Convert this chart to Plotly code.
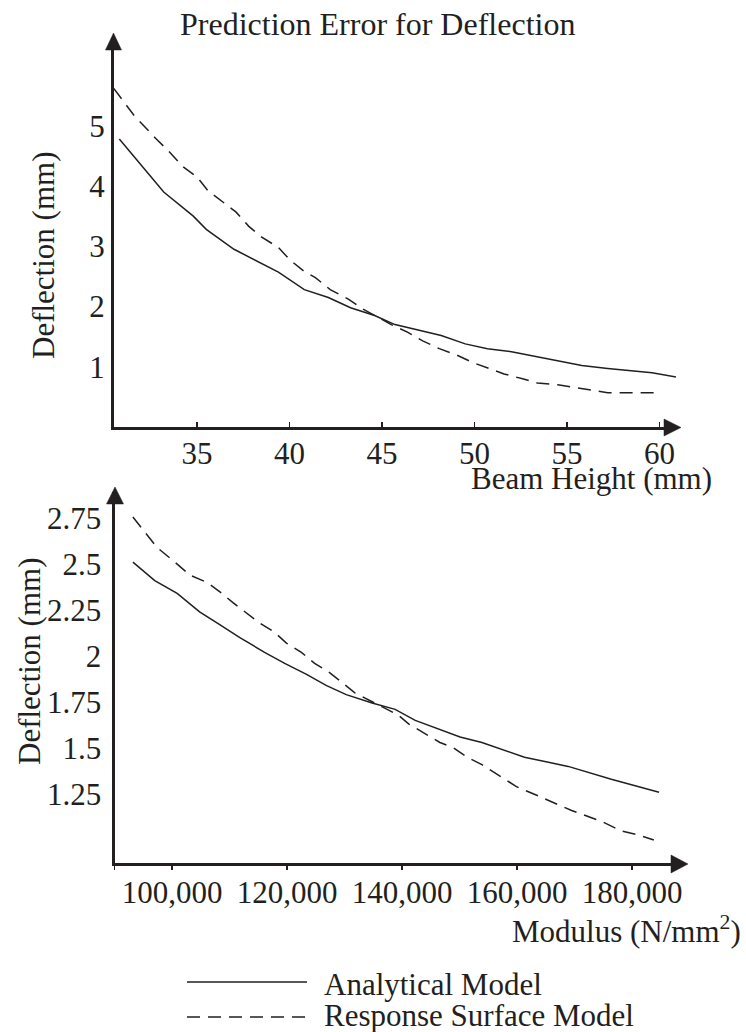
import plotly.graph_objects as go

W, H = 746, 1032
INK = "#231f20"
FONT = "Liberation Serif"

# ---------------- data ----------------
beam_height_analytical = [30.8, 33.2, 34.8, 35.5, 37.0, 38.3, 39.4, 40.8, 42.1, 43.3, 44.6,
                          45.7, 48.2, 49.5, 50.7, 52.0, 53.3, 54.5, 55.8, 57.2, 59.6, 60.9]
defl_beam_analytical = [4.78, 3.90, 3.50, 3.28, 2.95, 2.75, 2.57, 2.28, 2.15, 1.98, 1.85,
                        1.70, 1.52, 1.38, 1.30, 1.25, 1.17, 1.10, 1.02, 0.97, 0.90, 0.83]

beam_height_rsm = [30.5, 31.0, 31.6, 32.8, 33.5, 34.2, 35.0, 35.6, 36.4, 37.1, 37.8, 38.5,
                   39.4, 40.0, 40.8, 41.4, 42.2, 43.2, 43.9, 44.6, 45.5, 46.4, 47.2, 48.1,
                   49.0, 49.9, 50.7, 51.6, 52.6, 53.4, 54.5, 55.3, 56.1, 57.2, 58.0, 59.9]
defl_beam_rsm = [5.62, 5.42, 5.17, 4.78, 4.57, 4.33, 4.15, 3.92, 3.73, 3.57, 3.33, 3.15,
                 2.98, 2.78, 2.58, 2.48, 2.28, 2.12, 1.97, 1.85, 1.70, 1.57, 1.43, 1.30,
                 1.20, 1.07, 0.98, 0.88, 0.80, 0.73, 0.70, 0.66, 0.62, 0.57, 0.57, 0.57]

modulus_analytical = [93200, 97000, 100900, 104800, 108300, 111800, 116100, 119600, 123400,
                      126800, 130300, 134800, 138800, 142300, 150100, 153900, 161300,
                      168900, 176400, 184700]
defl_mod_analytical = [2.51, 2.41, 2.34, 2.24, 2.17, 2.10, 2.02, 1.96, 1.90,
                       1.84, 1.79, 1.745, 1.71, 1.65, 1.56, 1.53, 1.45,
                       1.40, 1.33, 1.26]

modulus_rsm = [93200, 97400, 100500, 103100, 106100, 108700, 110600, 113000, 115200,
               117800, 119900, 122500, 124800, 127400, 129400, 131800, 134900, 139300,
               141200, 144000, 146600, 149000, 151300, 153900, 156500, 159900, 164400,
               169500, 174800, 178100, 180800, 183800]
defl_mod_rsm = [2.755, 2.59, 2.51, 2.44, 2.40, 2.34, 2.29, 2.23, 2.18,
                2.13, 2.07, 2.02, 1.96, 1.91, 1.86, 1.80, 1.75, 1.68,
                1.63, 1.58, 1.53, 1.50, 1.45, 1.41, 1.36, 1.29, 1.23,
                1.16, 1.10, 1.05, 1.03, 1.00]

beam_ticks = [35, 40, 45, 50, 55, 60]
beam_defl_ticks = [1, 2, 3, 4, 5]
mod_minor_ticks = [90000]
mod_ticks = [100000, 120000, 140000, 160000, 180000]
mod_tick_text = ["100,000", "120,000", "140,000", "160,000", "180,000"]
mod_defl_ticks = [1.25, 1.5, 1.75, 2, 2.25, 2.5, 2.75]
mod_defl_text = ["1.25", "1.5", "1.75", "2", "2.25", "2.5", "2.75"]

series_names = ["Analytical Model", "Response Surface Model"]
title_text = "Prediction Error for Deflection"


def px(x):
    return x / W


def py(y):
    return 1 - y / H


solid = dict(color=INK, width=1.5)
dashed = dict(color=INK, width=1.5, dash="13px,8px")

fig = go.Figure()
fig.add_trace(go.Scatter(x=beam_height_analytical, y=defl_beam_analytical, mode="lines",
                         line=solid, name=series_names[0], xaxis="x", yaxis="y"))
fig.add_trace(go.Scatter(x=beam_height_rsm, y=defl_beam_rsm, mode="lines",
                         line=dashed, name=series_names[1], xaxis="x", yaxis="y"))
fig.add_trace(go.Scatter(x=modulus_analytical, y=defl_mod_analytical, mode="lines",
                         line=solid, name=series_names[0], xaxis="x2", yaxis="y2"))
fig.add_trace(go.Scatter(x=modulus_rsm, y=defl_mod_rsm, mode="lines",
                         line=dashed, name=series_names[1], xaxis="x2", yaxis="y2"))

tickfont = dict(family=FONT, size=31, color=INK)
axis_common = dict(showline=True, linewidth=3, linecolor=INK, showgrid=False,
                   zeroline=False, tickfont=tickfont, fixedrange=True)

# top plot geometry (pixels)
T_LEFT, T_RIGHT, T_BOTTOM, T_TOP = 114, 676, 427, 38
x_per_unit = 18.5
x0 = 35 - (197 - T_LEFT) / x_per_unit
x1 = x0 + (T_RIGHT - T_LEFT) / x_per_unit
y_per_unit = 60.25
y1 = (T_BOTTOM - T_TOP) / y_per_unit

# bottom plot geometry
B_LEFT, B_RIGHT, B_BOTTOM, B_TOP = 114.5, 682, 863, 492
mx_per = 5.75 / 1000
mx0 = 90000
mx1 = mx0 + (B_RIGHT - B_LEFT) / mx_per
my_per = 184
my0 = 1.25 - (B_BOTTOM - 794) / my_per
my1 = 1.25 + (794 - B_TOP) / my_per

fig.update_layout(
    width=W, height=H,
    margin=dict(l=0, r=0, t=0, b=0),
    paper_bgcolor="white", plot_bgcolor="white",
    showlegend=False,
    hovermode=False,
    font=dict(family=FONT, color=INK),
    xaxis=dict(axis_common, domain=[px(T_LEFT), px(T_RIGHT)], range=[x0, x1],
               anchor="y", tickvals=beam_ticks, ticks="inside", ticklen=5,
               tickwidth=1.5, tickcolor=INK, ticklabelstandoff=-3),
    yaxis=dict(axis_common, domain=[py(T_BOTTOM), py(T_TOP)], range=[0, y1],
               anchor="x", tickvals=beam_defl_ticks, ticks="", ticklabelstandoff=0),
    xaxis2=dict(axis_common, domain=[px(B_LEFT), px(B_RIGHT)], range=[mx0, mx1],
                anchor="y2", tickvals=mod_ticks, ticktext=mod_tick_text,
                ticks="outside", ticklen=4, tickwidth=1.5, tickcolor=INK,
                ticklabelstandoff=-4,
                minor=dict(tickvals=mod_minor_ticks, ticks="outside", ticklen=4,
                           tickwidth=1.5, tickcolor=INK, showgrid=False)),
    yaxis2=dict(axis_common, domain=[py(B_BOTTOM), py(B_TOP)], range=[my0, my1],
                anchor="x2", tickvals=mod_defl_ticks, ticktext=mod_defl_text,
                ticks="", ticklabelstandoff=4),
)


def tri(points):
    d = "M " + " L ".join(f"{px(a):.5f},{py(b):.5f}" for a, b in points) + " Z"
    return dict(type="path", path=d, xref="paper", yref="paper",
                fillcolor=INK, line=dict(color=INK, width=0.5))


shapes = [
    tri([(113.5, 33), (105.5, 50), (121.5, 50)]),
    tri([(681, 427.5), (664, 419), (664, 436)]),
    tri([(115, 487), (106.5, 504), (123.5, 504)]),
    tri([(688, 864), (671, 855), (671, 873)]),
    dict(type="line", xref="paper", yref="paper", x0=px(187), x1=px(307),
         y0=py(982), y1=py(982), line=solid),
    dict(type="line", xref="paper", yref="paper", x0=px(187), x1=px(307),
         y0=py(1017), y1=py(1017), line=dashed),
]

lab = dict(family=FONT, size=31, color=INK)
annotations = [
    dict(text=title_text, x=px(377), y=py(24), xref="paper", yref="paper",
         showarrow=False, xanchor="center", yanchor="middle",
         font=dict(family=FONT, size=32, color=INK)),
    dict(text="Deflection (mm)", x=px(43), y=py(256), xref="paper", yref="paper",
         showarrow=False, textangle=-90, xanchor="center", yanchor="middle", font=lab),
    dict(text="Beam Height (mm)", x=px(714), y=py(479), xref="paper", yref="paper",
         showarrow=False, xanchor="right", yanchor="middle", font=lab),
    dict(text="Deflection (mm)", x=px(29), y=py(662), xref="paper", yref="paper",
         showarrow=False, textangle=-90, xanchor="center", yanchor="middle", font=lab),
    dict(text="Modulus (N/mm<sup>2</sup>)", x=px(743), y=py(929), xref="paper",
         yref="paper", showarrow=False, xanchor="right", yanchor="middle", font=lab),
    dict(text=series_names[0], x=px(322), y=py(984), xref="paper", yref="paper",
         showarrow=False, xanchor="left", yanchor="middle", font=lab),
    dict(text=series_names[1], x=px(322), y=py(1015), xref="paper", yref="paper",
         showarrow=False, xanchor="left", yanchor="middle", font=lab),
]

fig.update_layout(shapes=shapes, annotations=annotations)
fig.write_html("out.html",
               config={"displayModeBar": False, "staticPlot": True},
               post_script="document.body.style.margin='0';"
                           "document.body.style.overflow='hidden';")
